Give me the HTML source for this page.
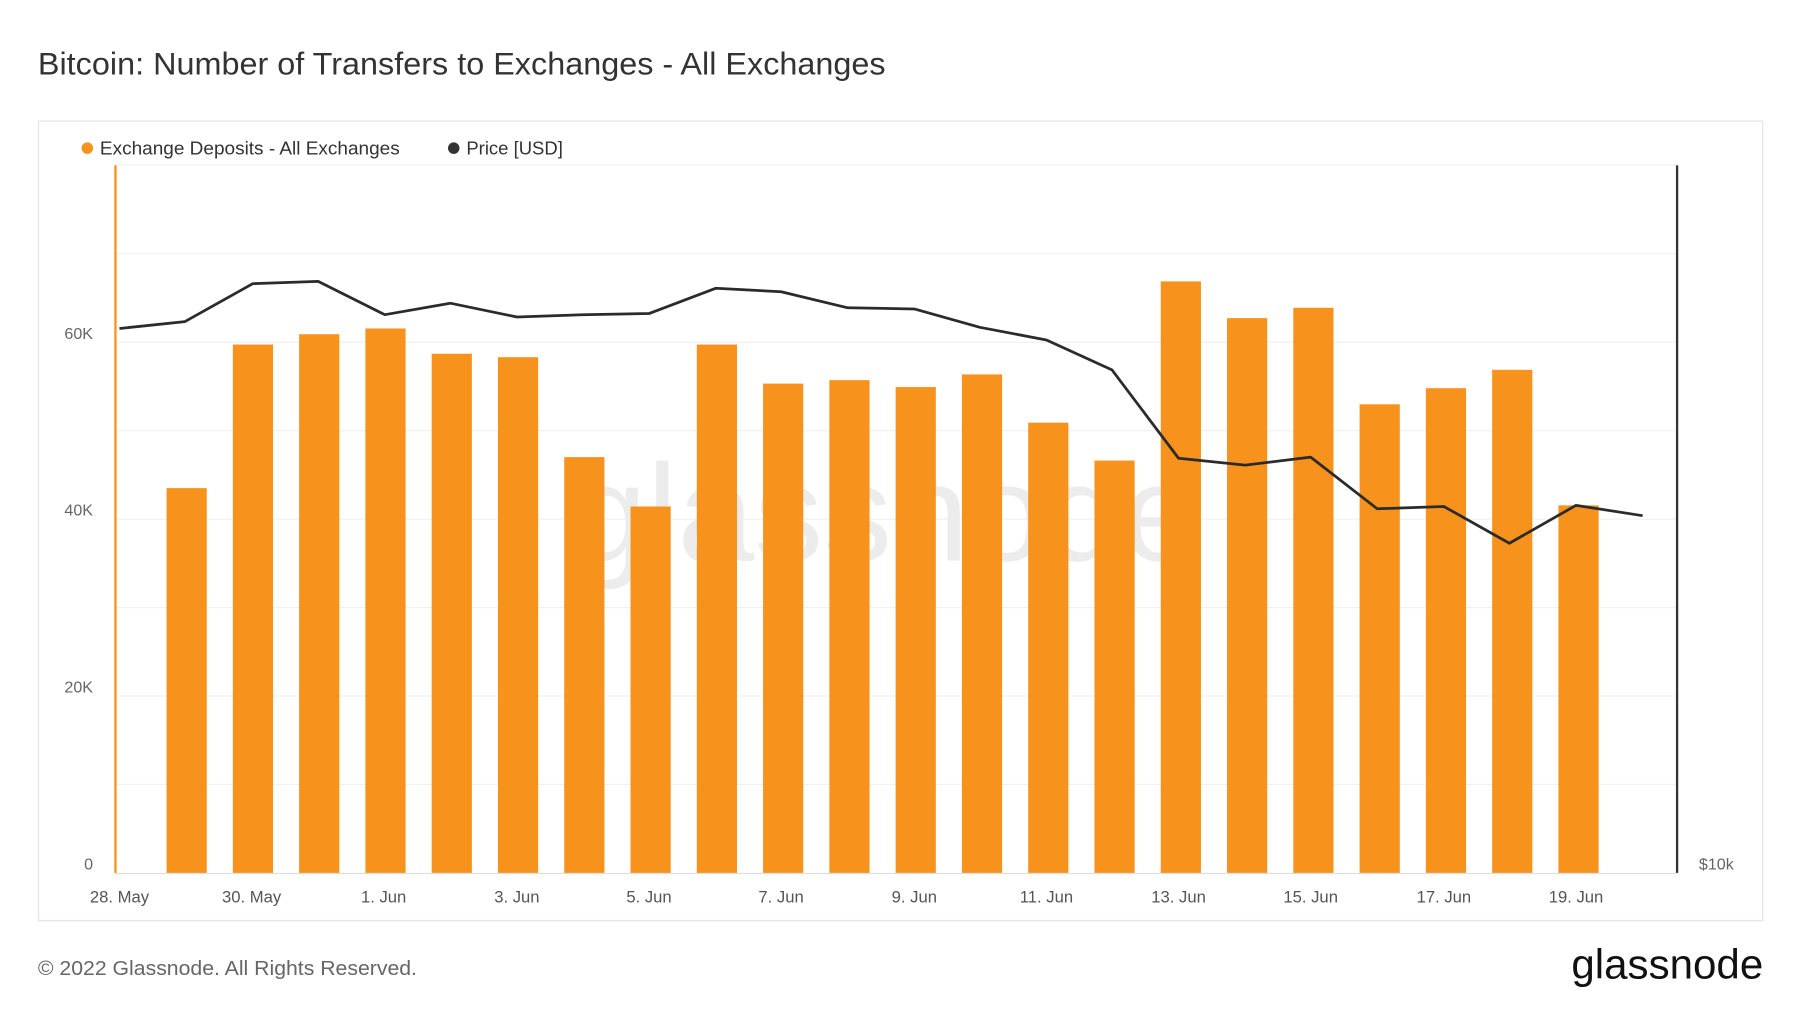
<!DOCTYPE html>
<html><head><meta charset="utf-8"><style>html,body{margin:0;padding:0;background:#fff;}svg{display:block;}</style></head>
<body>
<svg width="1800" height="1013" viewBox="0 0 1567 882" preserveAspectRatio="none" xmlns="http://www.w3.org/2000/svg" font-family="Liberation Sans, sans-serif">
<rect width="1567" height="882" fill="#fff"/>
<text x="33" y="65" font-size="27.5" fill="#333" textLength="738" lengthAdjust="spacingAndGlyphs">Bitcoin: Number of Transfers to Exchanges - All Exchanges</text>
<rect x="33.5" y="105.5" width="1501" height="696" fill="#fff" stroke="#e6e6e6" stroke-width="1.2"/>
<circle cx="76" cy="129" r="5" fill="#f7931a"/>
<text x="87" y="134.5" font-size="16" fill="#333" textLength="261" lengthAdjust="spacingAndGlyphs">Exchange Deposits - All Exchanges</text>
<circle cx="395" cy="129" r="5" fill="#333"/>
<text x="406" y="134.5" font-size="16" fill="#333" textLength="84" lengthAdjust="spacingAndGlyphs">Price [USD]</text>
<g stroke="#f0f0f0" stroke-width="1">
<line x1="100" x2="1460" y1="143.5" y2="143.5"/>
<line x1="100" x2="1460" y1="221" y2="221"/>
<line x1="100" x2="1460" y1="298" y2="298"/>
<line x1="100" x2="1460" y1="375" y2="375"/>
<line x1="100" x2="1460" y1="452" y2="452"/>
<line x1="100" x2="1460" y1="529" y2="529"/>
<line x1="100" x2="1460" y1="606" y2="606"/>
<line x1="100" x2="1460" y1="683" y2="683"/>
</g>
<line x1="100" x2="1460" y1="760.5" y2="760.5" stroke="#ddd"/>
<text x="770" y="488" font-size="120" fill="#ececec" text-anchor="middle">glassnode</text>
<g fill="#666" font-size="14" text-anchor="end">
<text x="81" y="295">60K</text><text x="81" y="449">40K</text><text x="81" y="603">20K</text><text x="81" y="757">0</text>
</g>
<text x="1479" y="757" font-size="14" fill="#666">$10k</text>
<g fill="#f7931d">
<rect x="145" y="425" width="35" height="335"/>
<rect x="202.7" y="300" width="35" height="460"/>
<rect x="260.4" y="291" width="35" height="469"/>
<rect x="318.1" y="286" width="35" height="474"/>
<rect x="375.8" y="308" width="35" height="452"/>
<rect x="433.5" y="311" width="35" height="449"/>
<rect x="491.2" y="398" width="35" height="362"/>
<rect x="548.9" y="441" width="35" height="319"/>
<rect x="606.6" y="300" width="35" height="460"/>
<rect x="664.3" y="334" width="35" height="426"/>
<rect x="722" y="331" width="35" height="429"/>
<rect x="779.7" y="337" width="35" height="423"/>
<rect x="837.4" y="326" width="35" height="434"/>
<rect x="895.1" y="368" width="35" height="392"/>
<rect x="952.8" y="401" width="35" height="359"/>
<rect x="1010.5" y="245" width="35" height="515"/>
<rect x="1068.2" y="277" width="35" height="483"/>
<rect x="1125.9" y="268" width="35" height="492"/>
<rect x="1183.6" y="352" width="35" height="408"/>
<rect x="1241.3" y="338" width="35" height="422"/>
<rect x="1299" y="322" width="35" height="438"/>
<rect x="1356.7" y="440" width="35" height="320"/>
</g>
<line x1="100.5" x2="100.5" y1="144" y2="760" stroke="#f7931a" stroke-width="2"/>
<line x1="1460" x2="1460" y1="144" y2="760" stroke="#333" stroke-width="2"/>
<polyline fill="none" stroke="#2b2b2b" stroke-width="2.4" stroke-linejoin="round" points="104,286 161,280 220,247 277,245 335,274 392,264 450,276 507,274 565,273 623,251 680,254 738,268 796,269 853,285 911,296 968,322 1026,399 1084,405 1141,398 1199,443 1257,441 1314,473 1372,440 1430,449"/>
<g fill="#555" font-size="14.5" text-anchor="middle">
<text x="104" y="786">28. May</text><text x="219" y="786">30. May</text><text x="334" y="786">1. Jun</text><text x="450" y="786">3. Jun</text><text x="565" y="786">5. Jun</text><text x="680" y="786">7. Jun</text><text x="796" y="786">9. Jun</text><text x="911" y="786">11. Jun</text><text x="1026" y="786">13. Jun</text><text x="1141" y="786">15. Jun</text><text x="1257" y="786">17. Jun</text><text x="1372" y="786">19. Jun</text>
</g>
<text x="33" y="849" font-size="18" fill="#666" textLength="330" lengthAdjust="spacingAndGlyphs">© 2022 Glassnode. All Rights Reserved.</text>
<text x="1535" y="852" font-size="36" fill="#111" text-anchor="end" textLength="167" lengthAdjust="spacingAndGlyphs">glassnode</text>
</svg>
</body></html>
